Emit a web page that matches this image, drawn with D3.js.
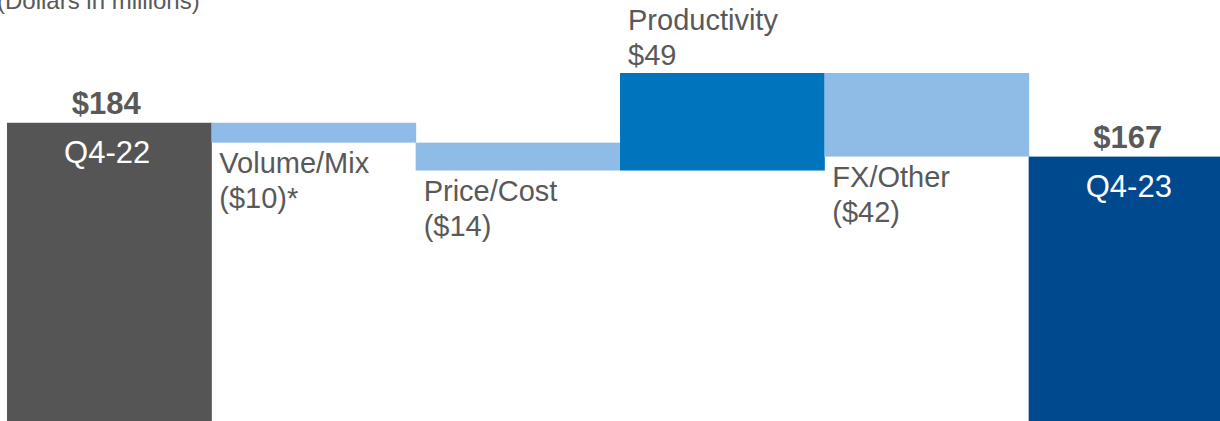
<!DOCTYPE html>
<html>
<head>
<meta charset="utf-8">
<script src="https://cdn.jsdelivr.net/npm/d3@7"></script>
<style>
  html, body { margin: 0; padding: 0; background: #fff; overflow: hidden; }
  text { font-family: "Liberation Sans", Arial, sans-serif; }
</style>
</head>
<body>
<script>
// waterfall: EBITDA bridge Q4-22 -> Q4-23
var categories = ["Q4-22", "Volume/Mix", "Price/Cost", "Productivity", "FX/Other", "Q4-23"];
var values = [184, -10, -14, 49, -42, 167];
var kinds = ["total", "delta", "delta", "delta", "delta", "total"];
var valueLabels = ["$184", "($10)*", "($14)", "$49", "($42)", "$167"];
var unitNote = "(Dollars in millions)";

var width = 1220, height = 421;
var textColor = "#595959";

var svg = d3.select("body").append("svg")
  .attr("width", width)
  .attr("height", height);

// build running start/end for each step
var run = 0;
var steps = categories.map(function (c, i) {
  var s, e;
  if (kinds[i] === "total") {
    s = 0; e = values[i]; run = values[i];
  } else {
    s = run; e = run + values[i]; run = e;
  }
  return { cat: c, i: i, start: s, end: e, kind: kinds[i], val: values[i], label: valueLabels[i] };
});

var x = d3.scaleBand().domain(categories).range([7, 1233]).padding(0);
var y = d3.scaleLinear().domain([0, 209]).range([489, 73]);

function barColor(d) {
  if (d.kind === "total") return d.i === 0 ? "#555555" : "#00498f";
  return d.val < 0 ? "#8fbce6" : "#0075be";
}

svg.append("g").attr("class", "bars")
  .selectAll("rect")
  .data(steps)
  .enter().append("rect")
  .attr("x", d => x(d.cat))
  .attr("width", x.bandwidth() + 0.5)
  .attr("y", d => y(Math.max(d.start, d.end)))
  .attr("height", d => Math.abs(y(d.start) - y(d.end)))
  .attr("fill", barColor);

var labels = svg.append("g").attr("class", "labels");

// totals: bold value above, quarter name inside the bar
var totals = steps.filter(d => d.kind === "total");
labels.selectAll("text.tval")
  .data(totals)
  .enter().append("text")
  .attr("class", "tval")
  .attr("x", d => x(d.cat) + x.bandwidth() / 2 - 3)
  .attr("y", d => y(d.end) - 9)
  .attr("text-anchor", "middle")
  .style("font-size", "31px")
  .style("font-weight", "bold")
  .attr("fill", textColor)
  .text(d => d.label);

labels.selectAll("text.tcat")
  .data(totals)
  .enter().append("text")
  .attr("class", "tcat")
  .attr("x", d => x(d.cat) + x.bandwidth() / 2 - 2)
  .attr("y", d => y(d.end) + 40)
  .attr("text-anchor", "middle")
  .style("font-size", "31px")
  .attr("fill", "#ffffff")
  .text(d => d.cat);

// deltas: two-line label, below the bar if negative, above if positive
var deltas = steps.filter(d => d.kind === "delta");
var dl = labels.selectAll("text.dl")
  .data(deltas)
  .enter().append("text")
  .attr("class", "dl")
  .attr("x", d => x(d.cat) + 8)
  .attr("y", function (d) {
    if (d.val < 0) return y(Math.min(d.start, d.end)) + 30;
    return y(Math.max(d.start, d.end)) - 8 - 35;
  })
  .style("font-size", "29px")
  .attr("fill", textColor);

dl.append("tspan").text(d => d.cat);
dl.append("tspan")
  .attr("x", d => x(d.cat) + 8)
  .attr("dy", 35)
  .text(d => d.label);

svg.append("text")
  .attr("x", -3)
  .attr("y", 9)
  .style("font-size", "24px")
  .attr("fill", textColor)
  .text(unitNote);
</script>
</body>
</html>
